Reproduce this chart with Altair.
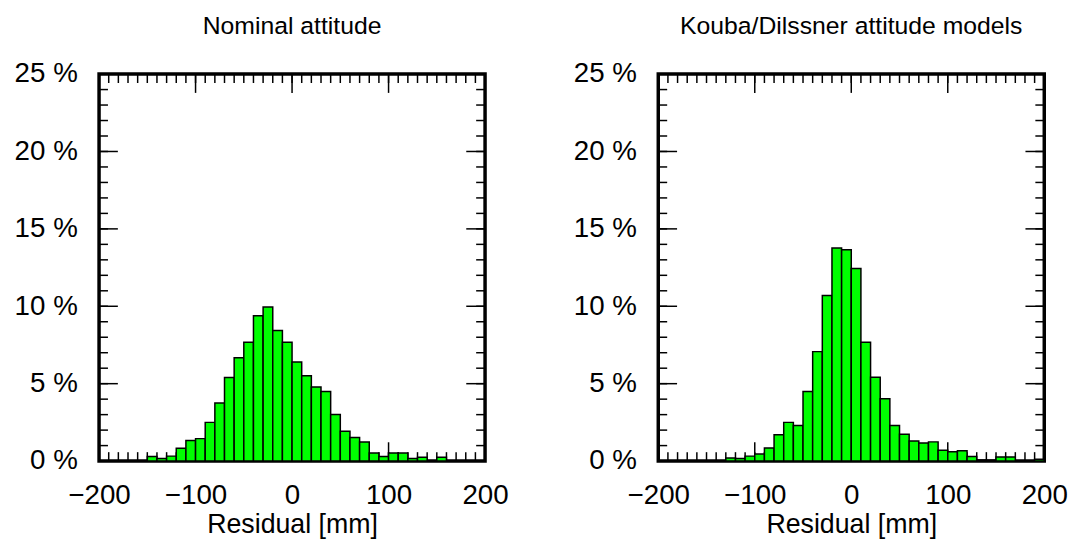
import altair as alt
import pandas as pd

FONT = "Liberation Sans"
W, H = 390, 391

titles = ["Nominal attitude", "Kouba/Dilssner attitude models"]

left_starts = list(range(-150, 160, 10))
left_pct = [0.29, 0.16, 0.32, 0.83, 1.33, 1.45, 2.50, 3.75, 5.40, 6.67, 7.67,
            9.39, 9.96, 8.43, 7.67, 6.40, 5.51, 4.79, 4.49, 3.01, 1.93, 1.53,
            1.23, 0.52, 0.30, 0.52, 0.52, 0.17, 0.25, 0.0, 0.25]

right_starts = list(range(-130, 200, 10))
right_pct = [0.20, 0.16, 0.32, 0.45, 0.85, 1.70, 2.50, 2.30, 4.49, 7.07, 10.70,
             13.76, 13.65, 12.44, 7.67, 5.41, 4.02, 2.30, 1.74, 1.30, 1.17, 1.24,
             0.70, 0.60, 0.66, 0.30, 0.07, 0.06, 0.27, 0.27, 0.0, 0.0, 0.12]

bin_width = 10
x_label_values = [-200, -100, 0, 100, 200]
y_label_values = [0, 5, 10, 15, 20, 25]
x_minor = list(range(-190, 200, 10))
x_major = [-100, 0, 100]
y_minor = list(range(1, 25))
y_major = [5, 10, 15, 20]

xs = alt.Scale(domain=[-200, 200], nice=False, zero=False)
ys = alt.Scale(domain=[0, 25], nice=False, zero=False)

x_axis = alt.Axis(values=x_label_values, title="Residual [mm]", ticks=False,
                  tickSize=0, domain=False, grid=False, labelPadding=21,
                  labelFlush=False, labelOverlap=False, titlePadding=2)
y_axis = alt.Axis(values=y_label_values, title=None, ticks=False, tickSize=0,
                  domain=False, grid=False, labelPadding=22, labelFlush=False,
                  labelOverlap=False,
                  labelExpr="datum.value + ' %'", minExtent=85, maxExtent=85)


def panel(starts, pct, title):
    df = pd.DataFrame({"start": starts, "pct": pct})
    df["end"] = df["start"] + bin_width
    bars = alt.Chart(df).mark_rect(fill="#00ff00", stroke="black", strokeWidth=1.5).encode(
        x=alt.X("start:Q", scale=xs, axis=x_axis),
        x2="end:Q",
        y=alt.Y("pct:Q", scale=ys, axis=y_axis),
        y2=alt.datum(0),
    )

    def xticks(vals, length):
        d = pd.DataFrame({"v": vals})
        base = alt.Chart(d).mark_rule(color="black", strokeWidth=1.5)
        bot = base.encode(x=alt.X("v:Q", scale=xs, axis=x_axis),
                          y=alt.value(H), y2=alt.value(H - length))
        top = base.encode(x=alt.X("v:Q", scale=xs, axis=x_axis),
                          y=alt.value(0), y2=alt.value(length))
        return [bot, top]

    def yticks(vals, length):
        d = pd.DataFrame({"v": vals})
        base = alt.Chart(d).mark_rule(color="black", strokeWidth=1.5)
        lft = base.encode(y=alt.Y("v:Q", scale=ys, axis=y_axis),
                          x=alt.value(0), x2=alt.value(length))
        rgt = base.encode(y=alt.Y("v:Q", scale=ys, axis=y_axis),
                          x=alt.value(W), x2=alt.value(W - length))
        return [lft, rgt]

    layers = xticks(x_minor, 9) + xticks(x_major, 19) + yticks(y_minor, 9) + yticks(y_major, 19) + [bars]
    return alt.layer(*layers).properties(
        width=W, height=H,
        title=alt.TitleParams(title, font=FONT, fontSize=25, fontWeight="normal",
                              anchor="middle", frame="group", offset=21, color="black"),
    )


chart = alt.hconcat(
    panel(left_starts, left_pct, titles[0]),
    panel(right_starts, right_pct, titles[1]),
    spacing=61,
).properties(
    padding={"left": 4, "top": 2, "right": 0, "bottom": 0}
).configure_view(
    stroke="black", strokeWidth=3.5
).configure_axis(
    labelFont=FONT, labelFontSize=28, labelColor="black",
    titleFont=FONT, titleFontSize=27, titleFontWeight="normal", titleColor="black",
)

chart.save("out.html", embed_options={"renderer": "svg", "actions": False})
